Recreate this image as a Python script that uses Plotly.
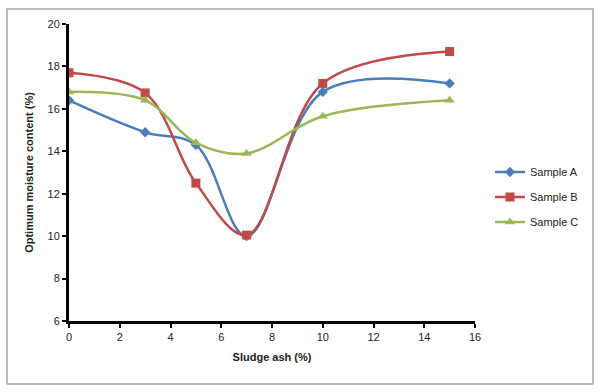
import plotly.graph_objects as go

sludge_ash = [0, 3, 5, 7, 10, 15]
sample_a = [16.4, 14.9, 14.3, 10.0, 16.8, 17.2]
sample_b = [17.7, 16.75, 12.5, 10.05, 17.2, 18.7]
sample_c = [16.8, 16.4, 14.4, 13.9, 15.65, 16.4]

series = [
    ("Sample A", sample_a, "#4A7EBB", "diamond", 8),
    ("Sample B", sample_b, "#BE4B48", "square", 9),
    ("Sample C", sample_c, "#98B954", "triangle-up", 9),
]

fig = go.Figure()
for name, vals, color, sym, size in series:
    fig.add_trace(go.Scatter(
        x=sludge_ash, y=vals, name=name, mode="lines+markers", legendgroup=name,
        line=dict(color=color, width=2.5, shape="spline", smoothing=1.0),
        marker=dict(symbol=sym, size=size, color=color),
    ))

L, R, T, B = 69, 127, 24, 71
W, H = 602, 392
pw, ph = W - L - R, H - T - B

def px_x(p):
    return (p - L) / pw

def px_y(p):
    return (H - B - p) / ph

fig.update_layout(
    width=W, height=H,
    margin=dict(l=L, r=R, t=T, b=B),
    paper_bgcolor="white", plot_bgcolor="white",
    font=dict(family="Liberation Sans, Arial, sans-serif", size=11, color="#222"),
    showlegend=True,
    legend=dict(x=px_x(490), y=px_y(197), xanchor="left", yanchor="middle",
                font=dict(size=11, color="#222"), tracegroupgap=6,
                bgcolor="rgba(0,0,0,0)", itemwidth=30),
    xaxis=dict(range=[0, 16], dtick=2, showgrid=False, zeroline=False,
               showline=True, linecolor="black", linewidth=3,
               ticks="outside", ticklen=4, tickwidth=2, tickcolor="black",
               title=dict(text="<b>Sludge ash (%)</b>", standoff=12,
                          font=dict(size=11, color="#222"))),
    yaxis=dict(range=[6, 20], dtick=2, showgrid=False, zeroline=False,
               showline=True, linecolor="black", linewidth=3,
               ticks="outside", ticklen=4, tickwidth=2, tickcolor="black",
               title=dict(text="<b>Optimum moisture content (%)</b>", standoff=12,
                          font=dict(size=11, color="#222"))),
    shapes=[dict(type="rect", xref="paper", yref="paper",
                 x0=px_x(7), x1=px_x(593), y0=px_y(384), y1=px_y(9),
                 line=dict(color="#A6A6A6", width=1.5), layer="below")],
)

fig.write_html("out.html", config={"displayModeBar": False},
               post_script="document.body.style.margin='0px';")
